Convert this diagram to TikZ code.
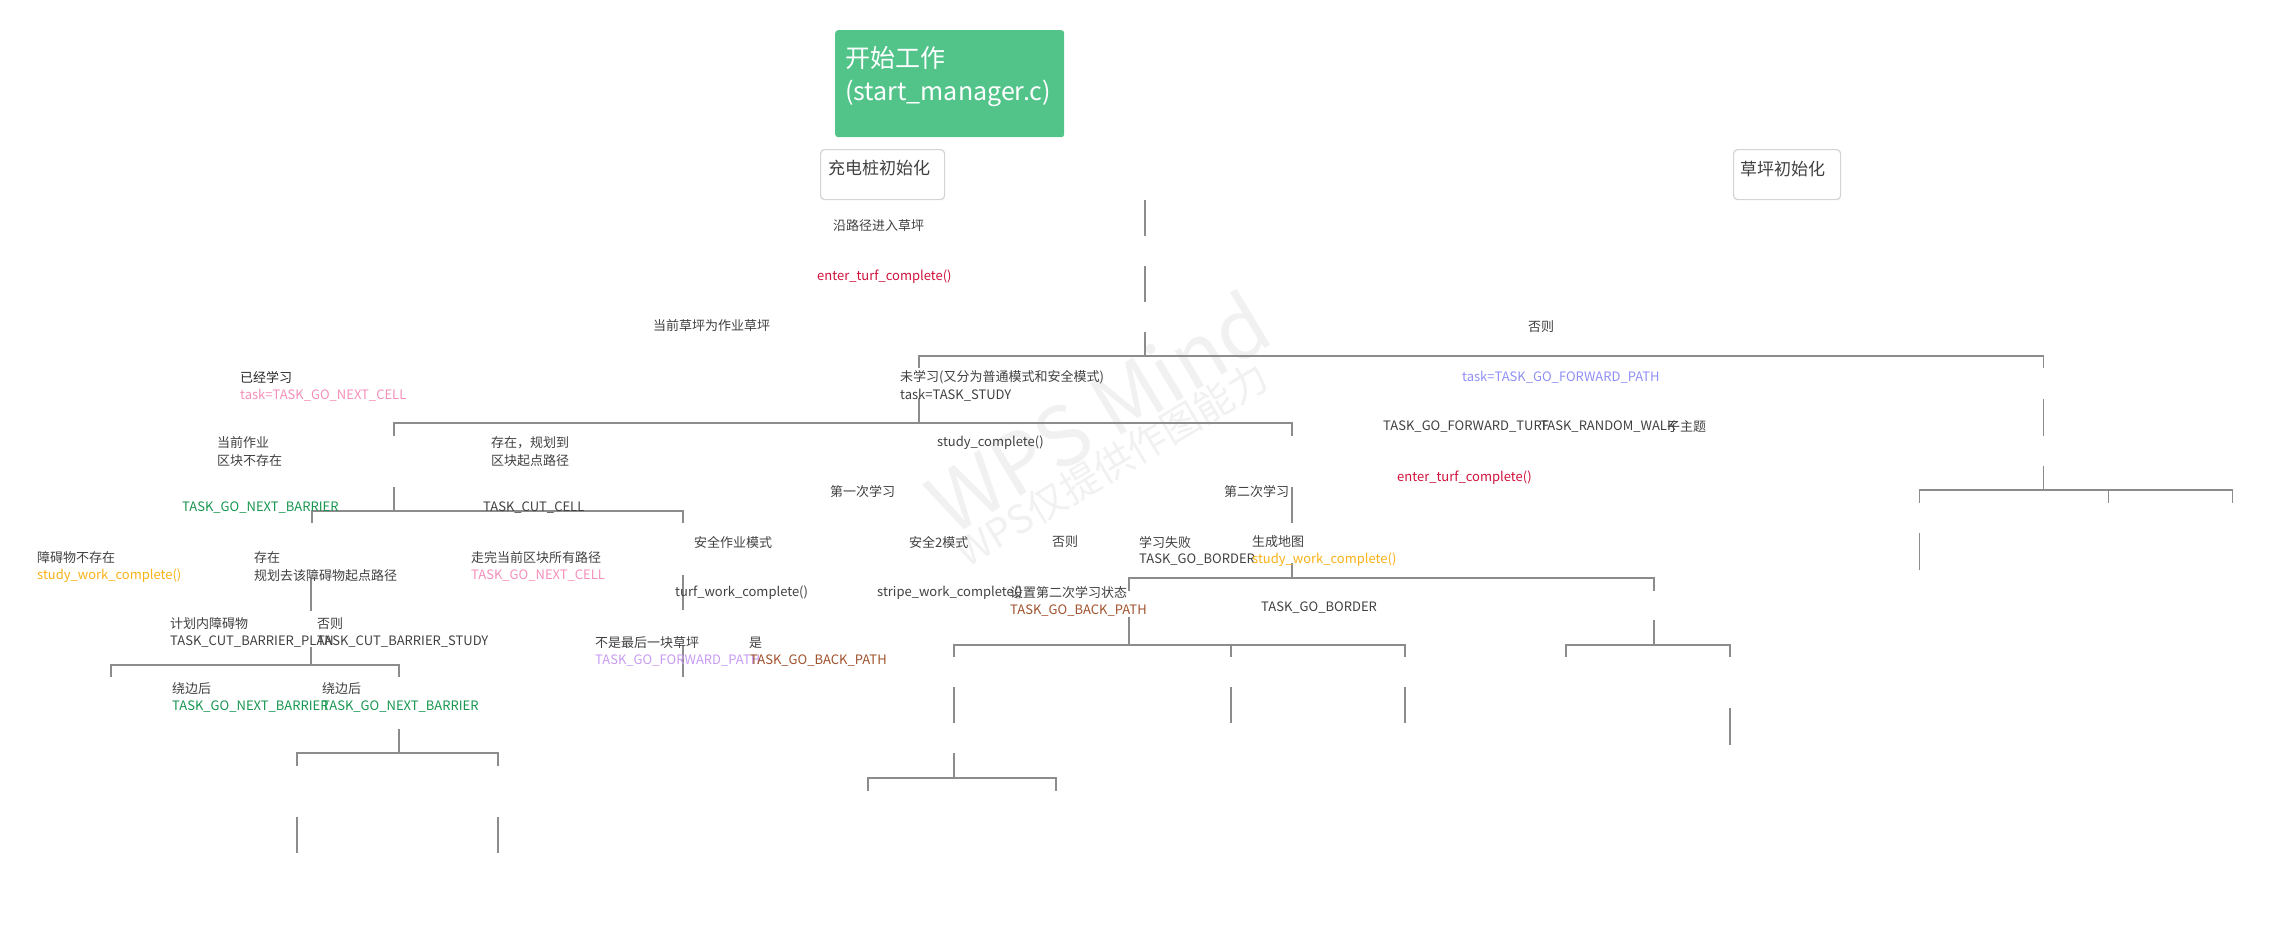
\documentclass[tikz,border=0pt]{standalone}
\usepackage{fontspec}
\setmainfont{Noto Sans CJK SC}
\definecolor{txt}{HTML}{404040}
\definecolor{lncol}{HTML}{8C8C8C}
\definecolor{startgreen}{HTML}{52C48A}
\definecolor{boxline}{HTML}{D4D4D4}
\definecolor{redf}{HTML}{D0103A}
\definecolor{pinkt}{HTML}{F58FBA}
\definecolor{bluet}{HTML}{8F8FF5}
\definecolor{oranget}{HTML}{F9B115}
\definecolor{greent}{HTML}{17964F}
\definecolor{lavt}{HTML}{C79BF2}
\definecolor{brownt}{HTML}{A0522D}
\definecolor{wmark}{HTML}{F1F1F1}
\begin{document}
\begin{tikzpicture}[x=1pt,y=-1pt,
  lbl/.style={anchor=west, inner sep=0pt, font=\fontsize{13}{15}\selectfont, text=txt},
  boxlbl/.style={anchor=west, inner sep=0pt, font=\fontsize{17}{20}\selectfont, text=txt},
  titlelbl/.style={anchor=west, inner sep=0pt, font=\fontsize{25}{28}\selectfont, text=white},
  conn/.style={draw=lncol, line width=1.05pt},
  wbox/.style={draw=boxline, fill=white, line width=1.2pt, rounded corners=4pt, anchor=north west, inner sep=0pt}]
\useasboundingbox (0,0) rectangle (2291,938);
% watermark
\node[rotate=31, text=wmark, font=\fontsize{82}{82}\selectfont, inner sep=0pt] (wm1) at (1098,412) {WPS Mind};
\node[rotate=31, text=wmark, font=\fontsize{39}{39}\selectfont, inner sep=0pt] (wm2) at (1112,464) {WPS仅提供作图能力};
% boxes
\node[fill=startgreen, rounded corners=3pt, anchor=north west, minimum width=229pt, minimum height=107pt, inner sep=0pt] (start) at (835,30) {};
\node[titlelbl] (st1) at (845,58) {开始工作};
\node[titlelbl] (st2) at (845,93) {(start\_manager.c)};
\node[wbox, minimum width=124pt, minimum height=50pt] (b1) at (820,149) {};
\node[boxlbl] (b1t) at (828,168) {充电桩初始化};
\node[wbox, minimum width=107pt, minimum height=50pt] (b2) at (1733,149) {};
\node[boxlbl] (b2t) at (1740,169) {草坪初始化};
% lines
\draw[conn] (1145,200)--(1145,236);
\draw[conn] (1145,266)--(1145,302);
\draw[conn] (1145,332)--(1145,356);
\draw[conn] (919,368)--(919,356)--(2043,356)--(2043,368);
\draw[conn] (919,398)--(919,423);
\draw[conn] (394,436)--(394,423)--(1292,423)--(1292,436);
\draw[conn] (394,487)--(394,511);
\draw[conn] (312,523)--(312,511)--(683,511)--(683,523);
\draw[conn] (683,575)--(683,610);
\draw[conn] (683,646)--(683,677);
\draw[conn] (311,577)--(311,611);
\draw[conn] (311,647)--(311,665);
\draw[conn] (111,677)--(111,665)--(399,665)--(399,677);
\draw[conn] (399,729)--(399,753);
\draw[conn] (297,766)--(297,753)--(498,753)--(498,766);
\draw[conn] (297,817)--(297,853);
\draw[conn] (498,817)--(498,853);
\draw[conn] (1292,487)--(1292,523);
\draw[conn] (1292,563)--(1292,578);
\draw[conn] (1129,591)--(1129,578)--(1654,578)--(1654,591);
\draw[conn] (1129,617)--(1129,645);
\draw[conn] (1654,620)--(1654,645);
\draw[conn] (954,657)--(954,645)--(1405,645)--(1405,657);
\draw[conn] (1231,645)--(1231,657);
\draw[conn] (954,687)--(954,723);
\draw[conn] (1231,687)--(1231,723);
\draw[conn] (1405,687)--(1405,723);
\draw[conn] (954,753)--(954,778);
\draw[conn] (868,791)--(868,778)--(1056,778)--(1056,791);
\draw[conn] (1566,657)--(1566,645)--(1730,645)--(1730,657);
\draw[conn] (1730,708)--(1730,745);
\draw[conn] (2043,399)--(2043,436);
\draw[conn] (2043,466)--(2043,490);
\draw[conn] (1919,503)--(1919,490)--(2232,490)--(2232,503);
\draw[conn] (2108,490)--(2108,503);
\draw[conn] (1919,533)--(1919,570);
% texts
\node[lbl] (n1) at (833,226) {沿路径进入草坪};
\node[lbl, text=redf] (n2) at (817,277) {enter\_turf\_complete()};
\node[lbl] (n3) at (653,326) {当前草坪为作业草坪};
\node[lbl] (n4) at (1528,327) {否则};
\node[lbl] (n5) at (900,377) {未学习(又分为普通模式和安全模式)};
\node[lbl] (n6) at (900,395) {task=TASK\_STUDY};
\node[lbl, text=bluet] (n7) at (1462,377) {task=TASK\_GO\_FORWARD\_PATH};
\node[lbl, text=black!85] (n8) at (240,377) {已经学习};
\node[lbl, text=pinkt] (n9) at (240,395) {task=TASK\_GO\_NEXT\_CELL};
\node[lbl] (n10) at (1383,427) {TASK\_GO\_FORWARD\_TURF};
\node[lbl] (n11) at (1540,427) {TASK\_RANDOM\_WALK};
\node[lbl] (n12) at (1667,427) {子主题};
\node[lbl, text=redf] (n13) at (1397,478) {enter\_turf\_complete()};
\node[lbl] (n14) at (217,443) {当前作业};
\node[lbl] (n15) at (217,461) {区块不存在};
\node[lbl] (n16) at (491,443) {存在，规划到};
\node[lbl] (n17) at (491,461) {区块起点路径};
\node[lbl] (n18) at (937,443) {study\_complete()};
\node[lbl] (n19) at (830,492) {第一次学习};
\node[lbl] (n20) at (1224,492) {第二次学习};
\node[lbl, text=greent] (n21) at (182,508) {TASK\_GO\_NEXT\_BARRIER};
\node[lbl] (n22) at (483,508) {TASK\_CUT\_CELL};
\node[lbl] (n23) at (694,542) {安全作业模式};
\node[lbl] (n24) at (909,542) {安全2模式};
\node[lbl] (n25) at (1052,542) {否则};
\node[lbl] (n26) at (1139,542) {学习失败};
\node[lbl] (n27) at (1139,560) {TASK\_GO\_BORDER};
\node[lbl] (n28) at (1252,542) {生成地图};
\node[lbl, text=oranget] (n29) at (1252,560) {study\_work\_complete()};
\node[lbl] (n30) at (37,558) {障碍物不存在};
\node[lbl, text=oranget] (n31) at (37,576) {study\_work\_complete()};
\node[lbl] (n32) at (254,558) {存在};
\node[lbl] (n33) at (254,576) {规划去该障碍物起点路径};
\node[lbl] (n34) at (471,558) {走完当前区块所有路径};
\node[lbl, text=pinkt] (n35) at (471,576) {TASK\_GO\_NEXT\_CELL};
\node[lbl] (n36) at (675,593) {turf\_work\_complete()};
\node[lbl] (n37) at (877,593) {stripe\_work\_complete()};
\node[lbl] (n38) at (1010,593) {设置第二次学习状态};
\node[lbl, text=brownt] (n39) at (1010,611) {TASK\_GO\_BACK\_PATH};
\node[lbl] (n40) at (1261,608) {TASK\_GO\_BORDER};
\node[lbl] (n41) at (170,624) {计划内障碍物};
\node[lbl] (n42) at (170,642) {TASK\_CUT\_BARRIER\_PLAN};
\node[lbl] (n43) at (317,624) {否则};
\node[lbl] (n44) at (317,642) {TASK\_CUT\_BARRIER\_STUDY};
\node[lbl] (n45) at (595,643) {不是最后一块草坪};
\node[lbl, text=lavt] (n46) at (595,661) {TASK\_GO\_FORWARD\_PATH};
\node[lbl] (n47) at (749,643) {是};
\node[lbl, text=brownt] (n48) at (750,661) {TASK\_GO\_BACK\_PATH};
\node[lbl] (n49) at (172,689) {绕边后};
\node[lbl, text=greent] (n50) at (172,707) {TASK\_GO\_NEXT\_BARRIER};
\node[lbl] (n51) at (322,689) {绕边后};
\node[lbl, text=greent] (n52) at (322,707) {TASK\_GO\_NEXT\_BARRIER};
\end{tikzpicture}
\end{document}
